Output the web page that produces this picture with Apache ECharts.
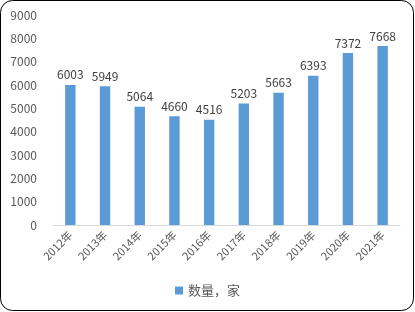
<!DOCTYPE html>
<html><head><meta charset="utf-8">
<script src="https://cdn.jsdelivr.net/npm/echarts@6/dist/echarts.min.js"></script>
<style>html,body{margin:0;padding:0;background:#fff}#c{width:415px;height:312px}</style>
</head><body><div id="c"></div>
<script>
const categories = ['2012年','2013年','2014年','2015年','2016年','2017年','2018年','2019年','2020年','2021年'];
const values = [6003,5949,5064,4660,4516,5203,5663,6393,7372,7668];
const seriesName = '数量，家';
const chart = echarts.init(document.getElementById('c'));
const font = '"Microsoft YaHei","Noto Sans CJK SC","DejaVu Sans",sans-serif';
chart.setOption({
  animation:false,
  textStyle:{fontFamily:font},
  graphic:[{type:'rect',shape:{x:0.5,y:0.5,width:413,height:310,r:12},style:{fill:'none',stroke:'#000',lineWidth:1}}],
  grid:{left:53,right:15,top:15,bottom:87},
  legend:{bottom:10,left:'center',icon:'rect',itemWidth:8,itemHeight:8,itemGap:4,
    textStyle:{color:'#595959',fontSize:13,fontFamily:font},data:[seriesName]},
  xAxis:{type:'category',data:categories,
    axisLine:{lineStyle:{color:'#D9D9D9'}},axisTick:{show:false},
    axisLabel:{rotate:45,color:'#595959',fontSize:11,margin:8,interval:0,fontFamily:font}},
  yAxis:{type:'value',min:0,max:9000,interval:1000,
    splitLine:{show:false},axisLine:{show:false},axisTick:{show:false},
    axisLabel:{color:'#595959',fontSize:12,margin:16,fontFamily:font,formatter:v=>String(v)}},
  series:[{name:seriesName,type:'bar',data:values,barWidth:'30%',
    itemStyle:{color:'#5B9BD5'},
    label:{show:true,position:'top',color:'#404040',fontSize:12,distance:4,fontFamily:font}}]
});
</script></body></html>
